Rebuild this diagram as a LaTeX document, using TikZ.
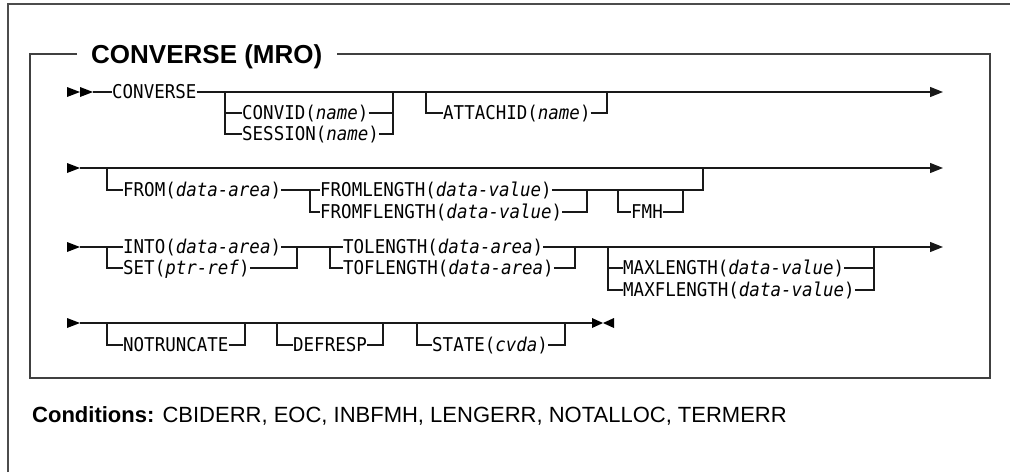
\documentclass[tikz,border=0pt]{standalone}
\usepackage{fontspec}
\setmainfont{Liberation Sans}
\newfontfamily\kwfont[FakeStretch=0.92]{DejaVu Sans Mono}
\usetikzlibrary{arrows.meta}
\begin{document}
\begin{tikzpicture}[x=1pt,y=-1pt,
  ln/.style={line width=1.3pt, black!90},
  boxline/.style={line width=2pt, black!75},
  kw/.style={font=\kwfont\fontsize{19}{22}\selectfont, inner sep=0pt, anchor=west, text height=15pt, text depth=1.15pt},
  arr/.style={ln, -{Triangle[length=13pt,width=10pt]}},
  titlefont/.style={font=\bfseries\fontsize{26}{30}\selectfont, inner ysep=0pt, inner xsep=14pt, anchor=west, text height=20pt, text depth=1.4pt},
  tri/.pic={\fill (0,-5) -- (13,0) -- (0,5) -- cycle;},
  ]
\useasboundingbox (0,0) rectangle (1010,472);
% outer frame
\draw[line width=1.6pt, black!70] (8,472) -- (8,4) -- (1010,4);
% inner box with title
\node[titlefont] (title) at (77,54) {CONVERSE (MRO)};
\draw[boxline] (title.west) -- (30,54) -- (30,378) -- (990,378) -- (990,54) -- (title.east);

% ---------- row 1 ----------
\pic at (67,92) {tri};
\pic at (80,92) {tri};
\coordinate (s1) at (93,92);
\coordinate (e1) at (943,92);
\node[kw] (converse) at (112,92) {CONVERSE};
\draw[ln] (s1) -- (converse.west);
\draw[arr] (converse.east) -- (e1);
\coordinate (a1) at (225,92);
\coordinate (a2) at (393,92);
\node[kw] (convid) at (242,113) {CONVID(\textit{name})};
\node[kw] (session) at (242,134) {SESSION(\textit{name})};
\draw[ln] (a1) |- (session.west);
\draw[ln] (convid.west -| a1) -- (convid.west);
\draw[ln] (convid.east) -| (a2);
\draw[ln] (session.east) -| (a2);
\coordinate (b1) at (426,92);
\coordinate (b2) at (607,92);
\node[kw] (attachid) at (443,113) {ATTACHID(\textit{name})};
\draw[ln] (b1) |- (attachid.west);
\draw[ln] (attachid.east) -| (b2);

% ---------- row 2 ----------
\pic at (67,168) {tri};
\coordinate (s2) at (80,168);
\coordinate (e2) at (943,168);
\draw[arr] (s2) -- (e2);
\coordinate (c1) at (107,168);
\node[kw] (from) at (123,190) {FROM(\textit{data-area})};
\draw[ln] (c1) |- (from.west);
\coordinate (c2) at (310,190);
\node[kw] (fromlen) at (320,190) {FROMLENGTH(\textit{data-value})};
\node[kw] (fromflen) at (320,212) {FROMFLENGTH(\textit{data-value})};
\draw[ln] (from.east) -- (fromlen.west);
\draw[ln] (c2) |- (fromflen.west);
\coordinate (c3) at (587,190);
\draw[ln] (fromflen.east) -| (c3);
\coordinate (c6) at (703,168);
\draw[ln] (fromlen.east) -| (c6);
\coordinate (c4) at (618,190);
\coordinate (c5) at (683,190);
\node[kw] (fmh) at (631,212) {FMH};
\draw[ln] (c4) |- (fmh.west);
\draw[ln] (fmh.east) -| (c5);

% ---------- row 3 ----------
\pic at (67,247) {tri};
\coordinate (s3) at (80,247);
\coordinate (e3) at (943,247);
\node[kw] (into) at (123,247) {INTO(\textit{data-area})};
\node[kw] (set) at (123,268) {SET(\textit{ptr-ref})};
\coordinate (d1) at (107,247);
\coordinate (d2) at (297,247);
\draw[ln] (s3) -- (into.west);
\draw[ln] (d1) |- (set.west);
\draw[ln] (set.east) -| (d2);
\node[kw] (tolen) at (343,247) {TOLENGTH(\textit{data-area})};
\node[kw] (toflen) at (343,268) {TOFLENGTH(\textit{data-area})};
\coordinate (d3) at (330,247);
\coordinate (d4) at (575,247);
\draw[ln] (into.east) -- (tolen.west);
\draw[ln] (d3) |- (toflen.west);
\draw[ln] (toflen.east) -| (d4);
\draw[arr] (tolen.east) -- (e3);
\coordinate (d5) at (608,247);
\coordinate (d6) at (874,247);
\node[kw] (maxlen) at (623,268) {MAXLENGTH(\textit{data-value})};
\node[kw] (maxflen) at (623,290) {MAXFLENGTH(\textit{data-value})};
\draw[ln] (d5) |- (maxflen.west);
\draw[ln] (maxlen.west -| d5) -- (maxlen.west);
\draw[ln] (maxlen.east) -| (d6);
\draw[ln] (maxflen.east) -| (d6);

% ---------- row 4 ----------
\pic at (67,323) {tri};
\coordinate (s4) at (80,323);
\coordinate (e4) at (592,323);
\draw[ln] (s4) -- (e4);
\fill (592,318) -- (603,323) -- (592,328) -- cycle;
\fill (614,318) -- (603,323) -- (614,328) -- cycle;
\coordinate (f1) at (107,323);
\coordinate (f2) at (245,323);
\node[kw] (notrunc) at (123,345) {NOTRUNCATE};
\draw[ln] (f1) |- (notrunc.west);
\draw[ln] (notrunc.east) -| (f2);
\coordinate (f3) at (277,323);
\coordinate (f4) at (383,323);
\node[kw] (defresp) at (293,345) {DEFRESP};
\draw[ln] (f3) |- (defresp.west);
\draw[ln] (defresp.east) -| (f4);
\coordinate (f5) at (417,323);
\coordinate (f6) at (565,323);
\node[kw] (state) at (432,345) {STATE(\textit{cvda})};
\draw[ln] (f5) |- (state.west);
\draw[ln] (state.east) -| (f6);

% ---------- conditions ----------
\node[anchor=base west, inner sep=0pt, font=\fontsize{22}{26}\selectfont] (cond) at (32,422)
  {\textbf{Conditions:} CBIDERR, EOC, INBFMH, LENGERR, NOTALLOC, TERMERR};
\end{tikzpicture}
\end{document}
